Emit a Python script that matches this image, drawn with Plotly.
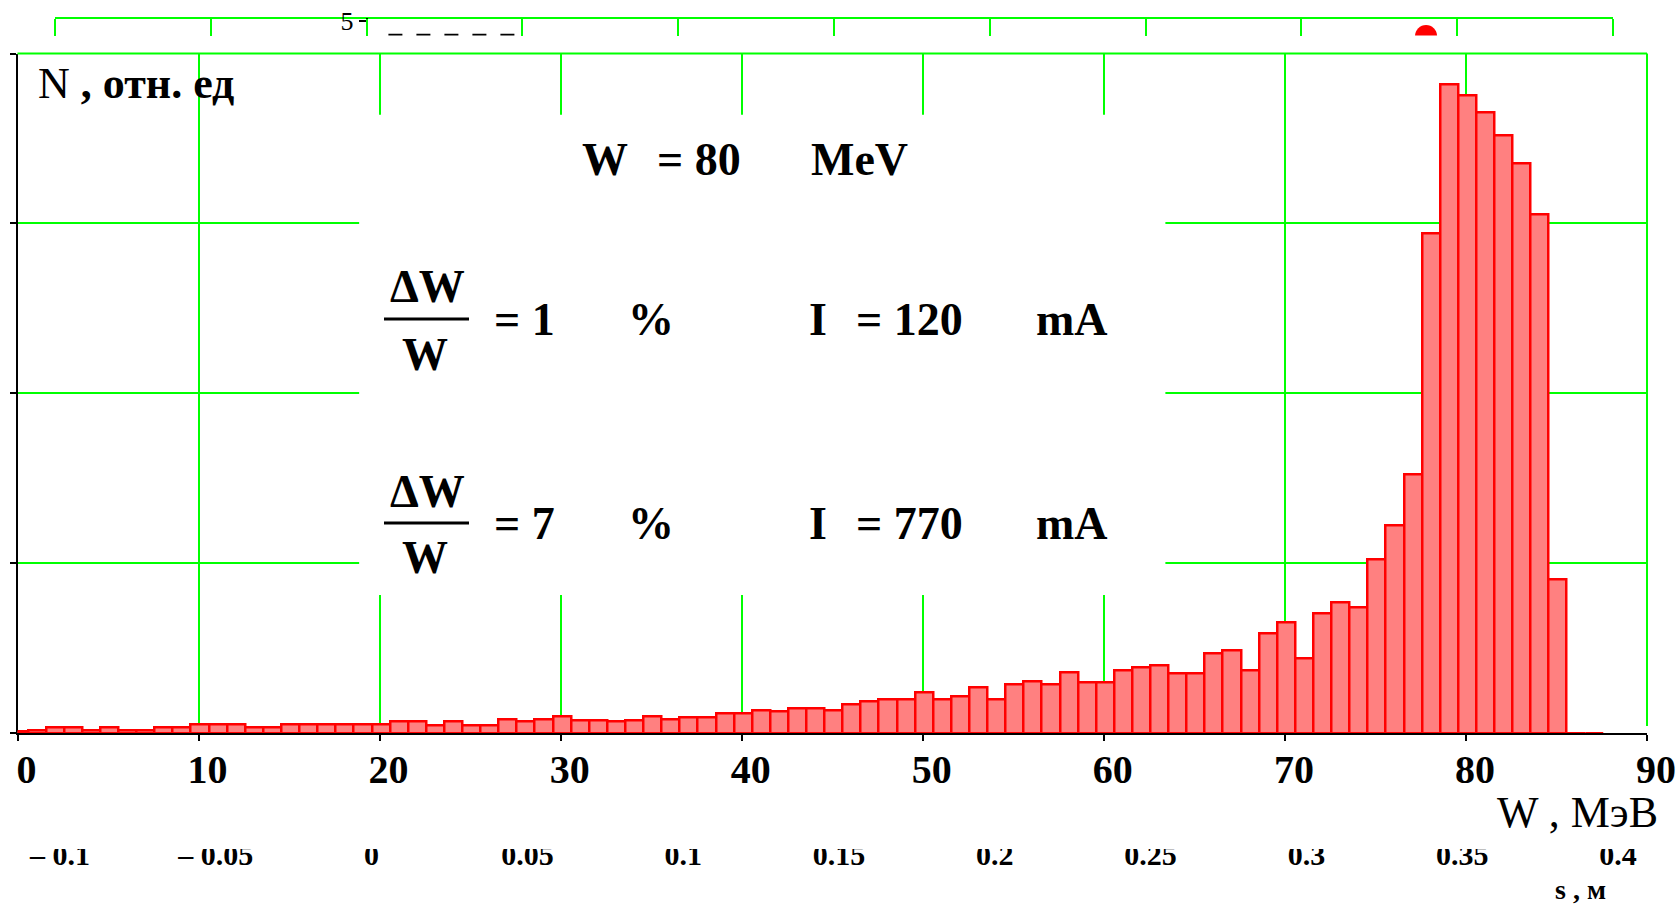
import plotly.graph_objects as go

W_PX, H_PX = 1680, 906

# ---------------- data ----------------
energy_bins = list(range(0, 88))  # MeV, bin index
counts = [
    0.006, 0.016, 0.034, 0.034, 0.016, 0.034, 0.016, 0.016, 0.034, 0.034,
    0.053, 0.053, 0.053, 0.034, 0.034, 0.053, 0.053, 0.050, 0.048, 0.048,
    0.048, 0.068, 0.068, 0.046, 0.068, 0.044, 0.044, 0.082, 0.066, 0.082,
    0.100, 0.076, 0.076, 0.066, 0.076, 0.100, 0.080, 0.094, 0.094, 0.112,
    0.112, 0.132, 0.128, 0.147, 0.147, 0.132, 0.167, 0.183, 0.196, 0.196,
    0.236, 0.196, 0.216, 0.265, 0.200, 0.285, 0.305, 0.285, 0.354, 0.295,
    0.297, 0.369, 0.383, 0.400, 0.350, 0.350, 0.470, 0.483, 0.369, 0.585,
    0.650, 0.440, 0.705, 0.770, 0.740, 1.020, 1.220, 1.520, 2.940, 3.820,
    3.750, 3.650, 3.520, 3.350, 3.050, 0.905, 0.0, 0.0,
]
w_ticks = [0, 10, 20, 30, 40, 50, 60, 70, 80, 90]
w_labels = [str(v) for v in w_ticks]

s_ticks = [-0.1, -0.05, 0, 0.05, 0.1, 0.15, 0.2, 0.25, 0.3, 0.35, 0.4]
s_labels = ["\u2013 0.1", "\u2013 0.05", "0", "0.05", "0.1", "0.15",
            "0.2", "0.25", "0.3", "0.35", "0.4"]

upper_dot_s = [0.34]
upper_dot_y = [4.48]
upper_dash_s = [0.007, 0.05]
upper_dash_y = [4.515, 4.515]

# ---------------- helpers ----------------
def px_x(x):
    return x / W_PX


def px_y(y):
    return 1 - y / H_PX


SERIF = "Liberation Serif"
GREEN = "#00FF00"

fig = go.Figure()

fig.add_trace(go.Bar(
    x=energy_bins, y=counts, width=1.0, offset=-0.42,
    marker=dict(color="#FF8080", line=dict(color="#FF0000", width=2.5)),
    xaxis="x", yaxis="y", hoverinfo="skip", showlegend=False,
))
fig.add_trace(go.Scatter(
    x=upper_dot_s, y=upper_dot_y, mode="markers",
    marker=dict(color="#FF0000", size=22, line=dict(width=0)),
    xaxis="x3", yaxis="y3", hoverinfo="skip", showlegend=False,
))
fig.add_trace(go.Scatter(
    x=upper_dash_s, y=upper_dash_y, mode="lines",
    line=dict(color="black", width=2.5, dash="14px,14px"),
    xaxis="x3", yaxis="y3", hoverinfo="skip", showlegend=False,
))
# placeholder so that the lower s-axis (x2) gets its own subplot
fig.add_trace(go.Scatter(
    x=[None], y=[None], mode="markers", xaxis="x2", yaxis="y4",
    hoverinfo="skip", showlegend=False,
))

axis_common = dict(automargin=False, fixedrange=True, zeroline=False)

fig.update_layout(
    width=W_PX, height=H_PX,
    margin=dict(l=0, r=0, t=0, b=0, pad=0),
    paper_bgcolor="white", plot_bgcolor="rgba(0,0,0,0)",
    showlegend=False, bargap=0,
    xaxis=dict(
        domain=[px_x(17.5), px_x(1647)], range=[0, 90], anchor="y",
        tickvals=w_ticks, ticktext=w_labels,
        showgrid=True, gridcolor=GREEN, gridwidth=2,
        ticks="outside", ticklen=6, tickwidth=2, tickcolor="black",
        showline=True, linecolor="black", linewidth=2,
        layer="below traces",
        tickfont=dict(family=SERIF, size=40, color="black", weight="bold"),
        ticklabelshift=9, ticklabelstandoff=-6,
        **axis_common,
    ),
    yaxis=dict(
        domain=[px_y(733), px_y(53.5)], range=[0, 4], anchor="x",
        tick0=0, dtick=1, showticklabels=False,
        showgrid=True, gridcolor=GREEN, gridwidth=2,
        ticks="outside", ticklen=6, tickwidth=2, tickcolor="black",
        showline=True, linecolor="black", linewidth=2,
        layer="below traces",
        **axis_common,
    ),
    xaxis2=dict(
        domain=[px_x(55), px_x(1613)], range=[-0.1, 0.4],
        anchor="free", position=px_y(828), side="bottom",
        tickvals=s_ticks, ticktext=s_labels,
        showgrid=False, showline=False, ticks="",
        tickfont=dict(family=SERIF, size=30, color="black", weight="bold"),
        ticklabelshift=5, ticklabelstandoff=6,
        **axis_common,
    ),
    yaxis4=dict(
        domain=[0, 0.005], range=[0, 1], anchor="free", position=0,
        visible=False, showgrid=False, **axis_common,
    ),
    xaxis3=dict(
        domain=[px_x(55), px_x(1613)], range=[-0.1, 0.4],
        anchor="free", position=px_y(18), side="bottom",
        tickvals=s_ticks, showticklabels=False,
        showgrid=False, showline=True, linecolor=GREEN, linewidth=2,
        ticks="outside", ticklen=17, tickwidth=2, tickcolor=GREEN,
        **axis_common,
    ),
    yaxis3=dict(
        domain=[px_y(35.5), px_y(18)], range=[4.5, 5.1],
        anchor="free", position=px_x(366.6),
        tickvals=[5], ticktext=["5"],
        showgrid=False, showline=True, linecolor="black", linewidth=2,
        ticks="outside", ticklen=7, tickwidth=2, tickcolor="black",
        tickfont=dict(family=SERIF, size=26, color="black"),
        **axis_common,
    ),
)

shapes = [
    # white box behind the parameter text (hides gridlines)
    dict(type="rect", xref="x", yref="y", x0=18.87, x1=63.4, y0=0.813, y1=3.64,
         fillcolor="white", line=dict(width=0), layer="between"),
    # top & right green frame
    dict(type="line", xref="paper", yref="paper", x0=px_x(17.5), x1=px_x(1647),
         y0=px_y(53.5), y1=px_y(53.5), line=dict(color=GREEN, width=2),
         layer="above"),
    dict(type="line", xref="paper", yref="paper", x0=px_x(1647), x1=px_x(1647),
         y0=px_y(726), y1=px_y(53.5), line=dict(color=GREEN, width=2),
         layer="above"),
    # fraction bars
    dict(type="line", xref="paper", yref="paper", x0=px_x(384), x1=px_x(469),
         y0=px_y(319), y1=px_y(319), line=dict(color="black", width=3),
         layer="above"),
    dict(type="line", xref="paper", yref="paper", x0=px_x(384), x1=px_x(469),
         y0=px_y(523), y1=px_y(523), line=dict(color="black", width=3),
         layer="above"),
    # clipping of the lower axis labels (cut-off picture)
    dict(type="rect", xref="paper", yref="paper", x0=0, x1=1,
         y0=px_y(849), y1=px_y(828), fillcolor="white", line=dict(width=0),
         layer="above"),
]
fig.update_layout(shapes=shapes)


def ann(text, x, y, size=46, bold=True, xanchor="left", yanchor="middle"):
    return dict(text=text, x=px_x(x), y=px_y(y), xref="paper", yref="paper",
                showarrow=False, xanchor=xanchor, yanchor=yanchor,
                font=dict(family=SERIF, size=size, color="black",
                          weight="bold" if bold else "normal"))


annotations = [
    ann("N<b> , отн. ед</b>", 36, 83, size=44, bold=False),
    ann("W", 605, 159, xanchor="center"),
    ann("= 80", 655, 159),
    ann("MeV", 809, 159),
    # row 1
    ann("\u0394W", 427, 287, xanchor="center"),
    ann("W", 425, 354, xanchor="center"),
    ann("= 1", 492, 319),
    ann("%", 651, 319, xanchor="center"),
    ann("I", 818, 319, xanchor="center"),
    ann("= 120", 854, 319),
    ann("mA", 1034, 319),
    # row 2
    ann("\u0394W", 427, 491, xanchor="center"),
    ann("W", 425, 557, xanchor="center"),
    ann("= 7", 492, 523),
    ann("%", 651, 523, xanchor="center"),
    ann("I", 818, 523, xanchor="center"),
    ann("= 770", 854, 523),
    ann("mA", 1034, 523),
    # axis titles
    ann("W , МэВ", 1660, 812, size=44, bold=False, xanchor="right"),
    ann("s , м", 1580, 889, size=28, xanchor="center"),
]
fig.update_layout(annotations=annotations)

fig.write_html("out.html")
